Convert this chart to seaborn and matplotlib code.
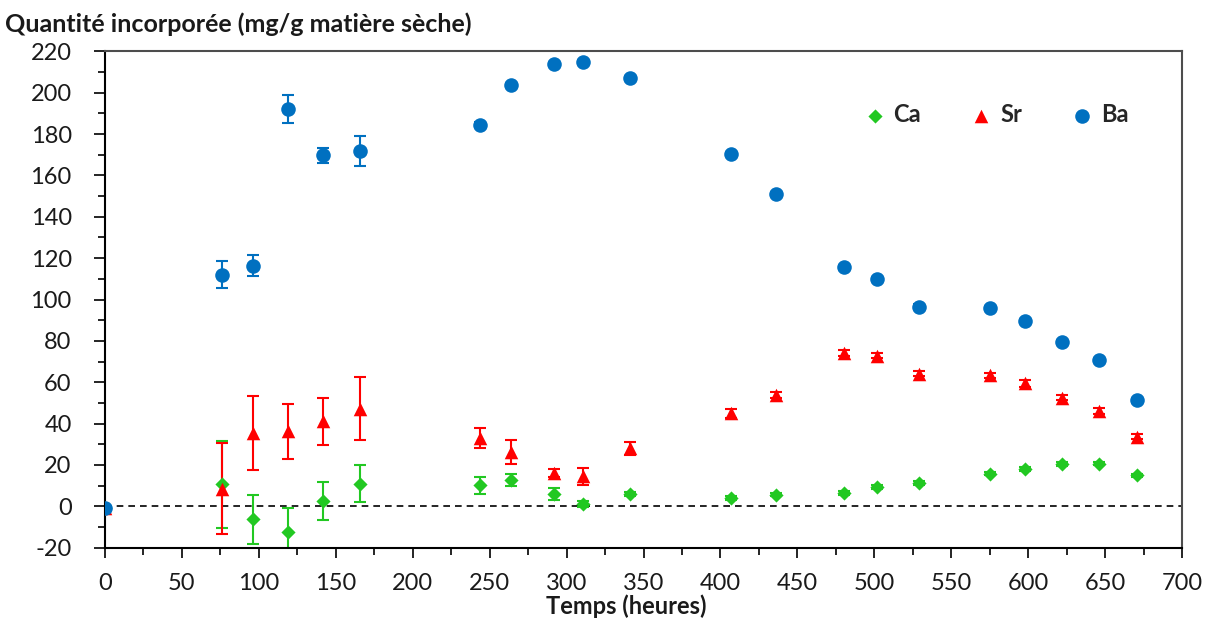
import numpy as np
import pandas as pd
import matplotlib
matplotlib.use("Agg")
import matplotlib.pyplot as plt
from matplotlib.ticker import MultipleLocator
import seaborn as sns

# ---------------- data ----------------
times = [0, 76, 96, 119, 142, 166, 244, 264, 292, 311, 341, 407, 436, 480, 502, 529, 575, 598, 622, 646, 671]

ca_vals = [-1, 10.7, -6.3, -12.4, 2.6, 11.0, 10.2, 12.6, 6.1, 1.0, 6.1, 4.0, 5.6, 6.5, 9.4, 11.3, 15.8, 18.1, 20.5, 20.7, 15.0]
ca_err = [0, 21, 12, 11.6, 9, 9, 4, 3, 3, 1.5, 1, 0.8, 0.8, 0.8, 0.8, 0.8, 0.8, 0.8, 0.8, 0.8, 0.8]

sr_vals = [-1, 8.6, 35.5, 36.3, 41.2, 47.3, 33.1, 26.3, 16.1, 14.5, 28.0, 45.0, 53.8, 74.0, 72.7, 64.0, 63.3, 59.4, 52.5, 46.2, 33.6]
sr_err = [0, 22, 18, 13.4, 11.4, 15, 5, 6, 2, 4, 3, 2.2, 1.5, 1.5, 1.2, 1.2, 1.2, 1.5, 1.2, 1.5, 1.2]

ba_vals = [-1, 112.0, 116.4, 192.0, 169.7, 171.7, 184.6, 203.5, 213.7, 215.0, 207.0, 170.5, 150.8, 115.5, 110.0, 96.6, 95.8, 89.6, 79.3, 70.7, 51.2]
ba_err = [0, 6.5, 5.2, 6.7, 3.6, 7.3, 1, 1, 1, 1, 1, 1, 1, 1, 1, 1, 1, 1, 1, 1, 1]

elements = ["Ca", "Sr", "Ba"]
title_text = "Quantité incorporée (mg/g matière sèche)"
xlabel_text = "Temps (heures)"

colors = {"Ca": "#22C822", "Sr": "#FF0000", "Ba": "#0070C0"}
markers = {"Ca": "D", "Sr": "^", "Ba": "o"}
sizes = {"Ca": 52, "Sr": 95, "Ba": 110}

series = {"Ca": (ca_vals, ca_err), "Sr": (sr_vals, sr_err), "Ba": (ba_vals, ba_err)}

rows = []
for el in elements:
    v, e = series[el]
    for t, y, err in zip(times, v, e):
        rows.append({"t": t, "val": y, "err": err, "el": el})
df = pd.DataFrame(rows)

# ---------------- style ----------------
sns.set_theme(style="white")
plt.rcParams["font.family"] = ["Lato", "DejaVu Sans"]
plt.rcParams["axes.unicode_minus"] = False

fig = plt.figure(figsize=(12.12, 6.24), dpi=100)
ax = fig.add_axes([105 / 1212, 1 - 547.7 / 624, 1077 / 1212, (547.7 - 51.3) / 624])

# error bars
for el in elements:
    sub = df[df.el == el]
    ax.errorbar(sub.t, sub.val, yerr=sub.err, fmt="none", ecolor=colors[el],
                elinewidth=1.5, capsize=4.5, capthick=1.5, zorder=2)

# markers via seaborn
for el in elements:
    sub = df[df.el == el]
    sns.scatterplot(data=sub, x="t", y="val", color=colors[el], marker=markers[el],
                    s=sizes[el], linewidth=0, ax=ax, zorder=3, label=el)

# zero dashed line
ax.axhline(0, color="black", lw=1.2, ls=(0, (4, 3)), zorder=1)

ax.set_xlim(0, 700)
ax.set_ylim(-20, 220)
ax.xaxis.set_major_locator(MultipleLocator(50))
ax.xaxis.set_minor_locator(MultipleLocator(25))
ax.yaxis.set_major_locator(MultipleLocator(20))
ax.yaxis.set_minor_locator(MultipleLocator(10))

ax.tick_params(axis="both", which="both", direction="out", colors="black", labelsize=17,
               labelcolor="#1a1a1a")
ax.tick_params(axis="x", which="major", length=7, width=1.2, pad=11, bottom=True)
ax.tick_params(axis="x", which="minor", length=5, width=1.2, bottom=True)
ax.tick_params(axis="y", which="major", length=8, width=1.2, pad=16, left=True)
ax.tick_params(axis="y", which="minor", length=5, width=1.2, left=True)

for side in ["left", "bottom"]:
    ax.spines[side].set_color("black")
    ax.spines[side].set_linewidth(1.5)
for side in ["top", "right"]:
    ax.spines[side].set_color("#4d4d4d")
    ax.spines[side].set_linewidth(1.5)

ax.set_xlabel(xlabel_text, fontsize=17, fontweight="bold", color="#1a1a1a")
ax.xaxis.set_label_coords(0.484, -0.095)
ax.set_ylabel("")

fig.text(0.004, 0.962, title_text, fontsize=18, fontweight="bold", color="#1a1a1a",
         ha="left", va="center")

handles, labels = ax.get_legend_handles_labels()
leg = ax.legend(handles, labels, loc="center left", bbox_to_anchor=(0.684, 0.872),
                ncol=3, frameon=False, handletextpad=0.3, columnspacing=2.05,
                handlelength=1.0, prop={"weight": "bold", "size": 17})

fig.savefig("out.png", dpi=100)
